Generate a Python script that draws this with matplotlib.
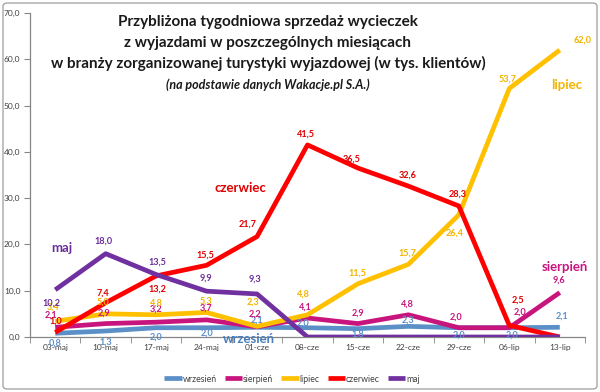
import matplotlib
matplotlib.use("Agg")
import matplotlib.pyplot as plt
from matplotlib.patches import FancyBboxPatch

categories = ["03-maj", "10-maj", "17-maj", "24-maj", "01-cze", "08-cze",
              "15-cze", "22-cze", "29-cze", "06-lip", "13-lip"]
wrzesien = [0.8, 1.3, 2.0, 2.0, 2.1, 2.0, 1.8, 2.3, 2.0, 2.0, 2.1]
sierpien = [2.1, 2.9, 3.2, 3.7, 2.2, 4.1, 2.9, 4.8, 2.0, 2.0, 9.6]
lipiec = [3.4, 5.0, 4.8, 5.3, 2.3, 4.8, 11.5, 15.7, 26.4, 53.7, 62.0]
czerwiec = [1.0, 7.4, 13.2, 15.5, 21.7, 41.5, 36.5, 32.6, 28.3, 2.5, 0.0]
maj = [10.2, 18.0, 13.5, 9.9, 9.3, 0.0, 0.0, 0.0, 0.0, 0.0, 0.0]
yticks = [0, 10, 20, 30, 40, 50, 60, 70]

# label offsets in pixels (dx, dy up); None = no label
off_wrz = [(0, -10), (0, -11), (0, -9), (0, -5), (0, 7), (-4, 5), (0, -5), (0, 6), (0, -7), (3, -7), (2, 11)]
off_sie = [(-4, 12), (-2, 10), (0, 13), (-1, 12), (-2, 13), (-2, 11), (0, 10), (-1, 11), (-3, 11), (11, 16), (-1, 12)]
off_lip = [(-2, 14), (-3, 12), (0, 12), (-1, 11), (-4, 24), (-4, 21), (-1, 11), (-1, 11), (-4, -18), (-2, 9), (23, 10)]
off_cze = [(1, 11), (-3, 10), (1, -13), (-1, 10), (-9, 12), (-2, 11), (-6, 9), (-1, 11), (-1, 12), (9, 25), None]
off_maj = [(-4, -13), (-2, 13), (1, 12), (-1, 13), (-2, 15), None, None, None, None, None, None]

series = [
    ("wrzesień", wrzesien, "#5B8FC7", off_wrz),
    ("sierpień", sierpien, "#C8157E", off_sie),
    ("lipiec", lipiec, "#FFC000", off_lip),
    ("czerwiec", czerwiec, "#FF0000", off_cze),
    ("maj", maj, "#7030A0", off_maj),
]
label_colors = {"wrzesień": "#5B8FC7", "sierpień": "#C8157E", "lipiec": "#F2B400",
                "czerwiec": "#E00000", "maj": "#6A2E9A"}

plt.rcParams['font.family'] = ['Lato', 'DejaVu Sans']

W, H = 600, 392
fig = plt.figure(figsize=(6.0, 3.92), dpi=100)
fig.patch.set_facecolor("white")

ax = fig.add_axes([30 / W, 55 / H, 555 / W, 324 / H])
x = list(range(len(categories)))
for i, (name, vals, col, offs) in enumerate(series):
    ax.plot(x, vals, color=col, lw=3.4, label=name, zorder=2 + i, solid_capstyle="butt")
    for xi, v, o in zip(x, vals, offs):
        if o is None:
            continue
        ax.annotate(f"{v:.1f}".replace(".", ","), (xi, v), xytext=o, textcoords="offset pixels",
                    ha="center", va="center", fontsize=6.6, fontweight="bold",
                    color=label_colors[name], zorder=10)

ax.set_xlim(-0.5, len(categories) - 0.5)
ax.set_ylim(0, 70)
ax.set_yticks(yticks)
ax.set_yticklabels([f"{t:.1f}".replace(".", ",") for t in yticks])
ax.set_xticks(x)
ax.set_xticklabels(categories)
ax.set_xticks([i - 0.5 for i in range(len(categories) + 1)], minor=True)
ax.tick_params(axis="x", which="major", length=0, labelsize=6, labelcolor="#404040", pad=5)
ax.tick_params(axis="x", which="minor", length=4, color="#868686", direction="out")
ax.tick_params(axis="y", length=4, color="#868686", labelsize=6, labelcolor="#404040", pad=3)
for s in ["top", "right"]:
    ax.spines[s].set_visible(False)
for s in ["left", "bottom"]:
    ax.spines[s].set_color("#868686")
    ax.spines[s].set_linewidth(0.9)
ax.patch.set_alpha(0)

# title
title_lines = ["Przybliżona tygodniowa sprzedaż wycieczek",
               "z wyjazdami w poszczególnych miesiącach",
               "w branży zorganizowanej turystyki wyjazdowej (w tys. klientów)"]
for j, t in enumerate(title_lines):
    fig.text(268 / W, 1 - (22 + 20.5 * j) / H, t, ha="center", va="center",
             fontsize=11, fontweight="bold", color="#1a1a1a")
fig.text(268 / W, 1 - 85 / H, "(na podstawie danych Wakacje.pl S.A.)", ha="center", va="center",
         fontsize=9, fontweight="bold", fontstyle="italic", color="#1a1a1a")

# series name annotations
fig.text(62 / W, 1 - 248 / H, "maj", ha="center", va="center", fontsize=9.5, fontweight="bold", color="#6A2E9A")
fig.text(240 / W, 1 - 188 / H, "czerwiec", ha="center", va="center", fontsize=9.5, fontweight="bold", color="#E00000")
fig.text(567 / W, 1 - 85 / H, "lipiec", ha="center", va="center", fontsize=9.5, fontweight="bold", color="#F2B400")
fig.text(565 / W, 1 - 267 / H, "sierpień", ha="center", va="center", fontsize=9.5, fontweight="bold", color="#C8157E")
fig.text(249 / W, 1 - 339 / H, "wrzesień", ha="center", va="center", fontsize=9.5, fontweight="bold", color="#4A7EBB")

leg = fig.legend(loc="center", bbox_to_anchor=(292 / W, 1 - 379 / H), ncol=5, frameon=False,
                 fontsize=6.3, handlelength=2.0, handletextpad=0.1, columnspacing=0.9)
for t in leg.get_texts():
    t.set_color("#404040")

border = FancyBboxPatch((3 / W, 3 / H), 594 / W, 386 / H, boxstyle="round,pad=0,rounding_size=0.008",
                        transform=fig.transFigure, fill=False, edgecolor="#A6A6A6", lw=1.0)
fig.patches.append(border)

fig.savefig("out.png", dpi=100)
